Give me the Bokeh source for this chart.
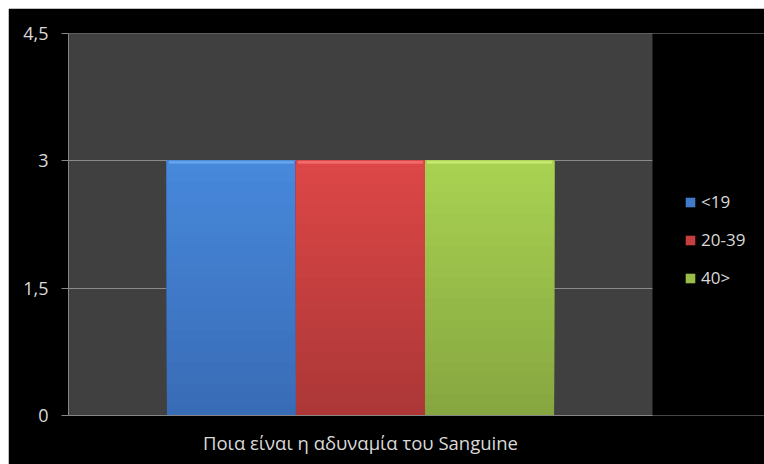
from bokeh.plotting import figure
from bokeh.models import (Range1d, FixedTicker, Legend, LegendItem, ColumnDataSource, BoxAnnotation)
from bokeh.embed import file_html
from bokeh.resources import INLINE

category = "Ποια είναι η αδυναμία του Sanguine"
series_names = ["<19", "20-39", "40>"]
series_values = [3, 3, 3]
series_colors = ["#4382d5", "#d94444", "#a7d04f"]        # legend / mid colour
series_top_colors = ["#4789dc", "#de4747", "#aad352"]    # shading at bar top
series_bottom_colors = ["#396cb6", "#ad3737", "#86a740"]  # shading at bar base
series_hi_colors = ["#64a2ec", "#f06a6a", "#c8e672"]     # bevel highlight
y_ticks = [0, 1.5, 3, 4.5]
y_tick_labels = ["0", "1,5", "3", "4,5"]

FONT = "Open Sans"
TXT = "#d9d9d9"


def mix(c1, c2, t):
    a = [int(c1[i:i + 2], 16) for i in (1, 3, 5)]
    b = [int(c2[i:i + 2], 16) for i in (1, 3, 5)]
    return "#" + "".join("%02x" % round(x + (y - x) * t) for x, y in zip(a, b))


# category slot spans [0, 1]; the extra room on the right holds the legend
p = figure(width=756, height=456, output_backend="svg", toolbar_location=None,
           x_range=Range1d(0, 1.1918), y_range=Range1d(0, 4.5),
           min_border_left=60, min_border_right=0, min_border_top=25, min_border_bottom=49)
p.margin = (8, 0, 0, 8)
p.background_fill_color = "#404040"
p.border_fill_color = "black"
p.outline_line_color = None

cat_center = 0.5
bw = 0.221
n = len(series_names)
LAYERS = 24
BEVEL = 0.035
items = []
for i, name in enumerate(series_names):
    val = series_values[i]
    xc = cat_center + (i - (n - 1) / 2) * bw
    legend_r = None
    for k in range(LAYERS):
        t = k / LAYERS
        src = ColumnDataSource(dict(x=[xc], top=[val], bottom=[val * t]))
        r = p.vbar(x="x", top="top", bottom="bottom", width=bw, source=src,
                   fill_color=mix(series_bottom_colors[i], series_top_colors[i], t),
                   line_color=None)
        if k == LAYERS // 2:
            legend_r = r
    src = ColumnDataSource(dict(x=[xc], top=[val], bottom=[val - BEVEL]))
    p.vbar(x="x", top="top", bottom="bottom", width=bw * 0.97, source=src,
           fill_color=series_hi_colors[i], line_color=None)
    legend_r.glyph.fill_color = series_colors[i] if False else legend_r.glyph.fill_color
    items.append(LegendItem(label=name, renderers=[legend_r]))

# black area to the right of the plot area
p.add_layout(BoxAnnotation(left=1, fill_color="black", fill_alpha=1, line_color=None, level="glyph"))

p.xgrid.grid_line_color = None
p.ygrid.grid_line_color = "#8a8a8a"
p.ygrid.ticker = FixedTicker(ticks=y_ticks)

p.yaxis.ticker = FixedTicker(ticks=y_ticks)
p.yaxis.major_label_overrides = {t: l for t, l in zip(y_ticks, y_tick_labels)}
p.yaxis.major_tick_out = 7
p.yaxis.major_tick_in = 0
p.yaxis.minor_tick_line_color = None
p.yaxis.major_label_standoff = 13

p.xaxis.ticker = FixedTicker(ticks=[cat_center])
p.xaxis.major_label_overrides = {cat_center: category}
p.xaxis.bounds = (0, 1)
for ax in (p.xaxis, p.yaxis):
    ax.axis_line_color = "#868686"
    ax.major_tick_line_color = "#868686"
    ax.major_label_text_color = TXT
    ax.major_label_text_font = FONT
    ax.major_label_text_font_size = "18px"
p.xaxis.major_label_text_font_size = "18.5px"
p.xaxis.major_tick_line_color = None
p.xaxis.minor_tick_line_color = None
p.xaxis.major_tick_out = 0
p.xaxis.major_tick_in = 0
p.xaxis.minor_tick_out = 0
p.xaxis.major_label_standoff = 14

legend = Legend(items=items, location=(616, 126), padding=0, margin=0,
                glyph_width=12, glyph_height=12, label_standoff=5, spacing=15, label_height=20,
                border_line_color=None, background_fill_alpha=0,
                label_text_color=TXT, label_text_font=FONT, label_text_font_size="17px")
p.add_layout(legend, "center")

open("out.html", "w").write(file_html(p, INLINE))
